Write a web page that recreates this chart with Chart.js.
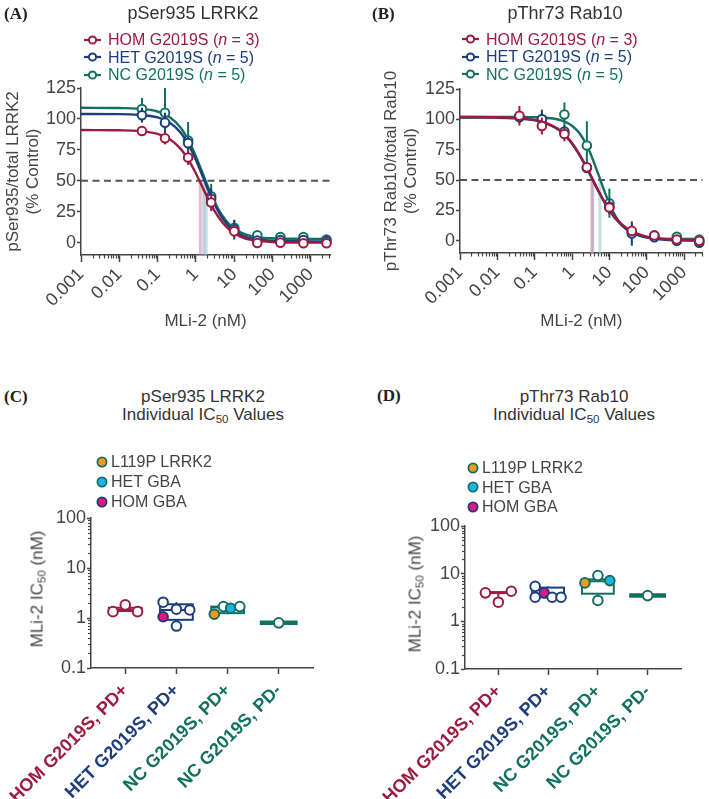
<!DOCTYPE html>
<html><head><meta charset="utf-8">
<script src="https://cdn.jsdelivr.net/npm/chart.js@4.4.1/dist/chart.umd.min.js"></script>
<style>
html,body{margin:0;padding:0;background:#fff}
body{width:709px;height:799px;position:relative;overflow:hidden;font-family:"Liberation Sans",Arial,Helvetica,sans-serif;color:#444}
canvas{position:absolute}
.t{position:absolute;white-space:nowrap;line-height:1;transform:translate(-50%,-50%)}
.l{position:absolute;white-space:nowrap;line-height:1;transform:translateY(-50%)}
.pl{font-family:"Liberation Serif","Times New Roman",serif;font-weight:bold;font-size:17px;color:#222}
.ti{font-size:18px;color:#333}
.ti2{font-size:17px;color:#333}
.lg{font-size:16px}
.rot{font-size:17px;color:#444;transform:translate(-50%,-50%) rotate(-90deg)}
sub{font-size:68%;line-height:0;vertical-align:-0.3em}
</style></head><body>
<canvas id="cA" width="345" height="336" style="left:0;top:0"></canvas>
<canvas id="cB" width="354" height="336" style="left:355px;top:0"></canvas>
<canvas id="cC" width="340" height="359" style="left:0;top:440px"></canvas>
<canvas id="cD" width="354" height="359" style="left:355px;top:440px"></canvas>

<div class="l pl" style="left:4px;top:13px">(A)</div>
<div class="t ti" style="left:193px;top:13px">pSer935 LRRK2</div>
<div class="l pl" style="left:372px;top:13px">(B)</div>
<div class="t ti" style="left:565px;top:13px">pThr73 Rab10</div>

<div class="l pl" style="left:4px;top:396px">(C)</div>
<div class="t ti2" style="left:203px;top:396px">pSer935 LRRK2</div>
<div class="t ti2" style="left:203px;top:414px">Individual IC<sub>50</sub> Values</div>
<div class="l pl" style="left:377px;top:395px">(D)</div>
<div class="t ti2" style="left:574px;top:396px">pThr73 Rab10</div>
<div class="t ti2" style="left:574px;top:414px">Individual IC<sub>50</sub> Values</div>

<div class="t rot" style="left:37px;top:589px">MLi-2 IC<sub>50</sub> (nM)</div>
<div class="t rot" style="left:415px;top:594px">MLi-2 IC<sub>50</sub> (nM)</div>

<script>
// ---------- DATA ----------
// Panels A & B (dose response)
const doses = [0.039, 0.156, 0.625, 2.5, 10, 40, 160, 640, 2560];
const curveDoses = [0.001, 0.01, 0.03, 0.1, 0.2, 0.4, 0.7, 1, 1.5, 2, 3, 5, 8, 15, 30, 100, 300, 3162];
const seriesNames = ['HOM G2019S', 'HET G2019S', 'NC G2019S'];
const seriesN = [3, 5, 5];

const aHom = [90.3, 84.4, 68.8, 32.5, 9.1, -0.3, 0, -0.5, -0.5];
const aHomErr = [2, 5, 6, 7, 5, 3, 2, 2, 3];
const aHet = [103, 97, 80.4, 35.5, 10.5, 1.6, 2, 2, 1];
const aHetErr = [6, 8, 5, 8, 8, 3, 3, 3, 5];
const aNc = [108, 105, 82.5, 37.5, 12, 6, 4.5, 4.5, 2.5];
const aNcErr = [9, 20, 15, 10, 6, 3, 3, 2, 2];
const aHomCurve = [91, 90.8, 90.3, 87.9, 83.9, 75.8, 64.9, 55.9, 44.5, 36.5, 26.1, 16.0, 9.6, 4.7, 2.0, 0.5, 0.1, 0];
const aHetCurve = [104, 103.9, 103.4, 101.2, 97.3, 88.9, 77.0, 66.8, 53.6, 44.0, 31.7, 19.4, 11.9, 6.1, 3.1, 1.5, 1.1, 1.0];
const aNcCurve = [109, 108.8, 108.3, 106.0, 101.8, 92.9, 80.3, 69.7, 56.0, 46.2, 33.6, 21.3, 13.8, 8.1, 5.1, 3.5, 3.1, 3.0];
const aIc50 = [1.3, 1.6, 1.85];

const bHom = [103, 94.5, 88, 60.5, 27.5, 8.2, 4.4, 1.1, 0];
const bHomErr = [8, 7, 6, 4, 5, 2, 2, 2, 2];
const bHet = [102, 100, 90, 60, 28, 6, 3, 0, -1.6];
const bHetErr = [5, 8, 5, 4, 6, 10, 3, 4, 3];
const bNc = [102, 100, 104, 78.5, 31, 7, 4.5, 3.3, 1];
const bNcErr = [5, 5, 10, 20, 12, 4, 2, 3, 2];
const bHomCurve = [102, 101.8, 101.3, 99.6, 97.2, 92.6, 86.2, 80.5, 72.4, 65.7, 55.4, 41.9, 30.5, 18.6, 10.1, 3.4, 1.45, 0.6];
const bHetCurve = [101.6, 101.4, 100.9, 99.2, 96.8, 92.2, 85.8, 80.0, 71.9, 65.2, 54.8, 41.2, 29.8, 17.8, 9.4, 2.8, 0.9, 0.1];
const bNcCurve = [102, 102, 102, 101.8, 101.3, 100.1, 97.6, 94.8, 89.5, 83.9, 73.1, 55.3, 38.0, 19.8, 8.8, 2.8, 1.75, 1.5];
const bIc50 = [3.4, 3.6, 5.6];

const halfMax = 50;
const xTickValues = [0.001, 0.01, 0.1, 1, 10, 100, 1000];
const xTickLabels = ['0.001', '0.01', '0.1', '1', '10', '100', '1000'];
const yTickValues = [0, 25, 50, 75, 100, 125];
const yTickLabels = ['0', '25', '50', '75', '100', '125'];

// Panels C & D (individual IC50)
const categories = ['HOM G2019S, PD+', 'HET G2019S, PD+', 'NC G2019S, PD+', 'NC G2019S, PD-'];
const markerNames = ['L119P LRRK2', 'HET GBA', 'HOM GBA'];
// points: [offset within group, IC50 (nM), marker index or -1]
const cHom = [[-0.24, 1.34, -1], [0, 1.83, -1], [0.24, 1.34, -1]];
const cHet = [[-0.26, 2.07, -1], [-0.26, 1.06, 2], [0, 1.5, -1], [0, 0.69, -1], [0.26, 1.45, -1]];
const cNcPos = [[-0.26, 1.19, 0], [-0.08, 1.69, -1], [0.06, 1.57, 1], [0.24, 1.69, -1]];
const cNcNeg = [[0, 0.8, -1]];
// box stats: [min, q1, median, q3, max]
const cBoxes = [[1.34, 1.38, 1.45, 1.6, 1.83], [0.69, 0.92, 1.45, 1.88, 2.07], [1.19, 1.25, 1.62, 1.69, 1.69], [0.8, 0.8, 0.8, 0.8, 0.8]];

const dHom = [[-0.26, 3.96, -1], [0, 2.52, -1], [0.26, 4.28, -1]];
const dHet = [[-0.26, 5.4, -1], [-0.26, 3.2, -1], [-0.08, 3.96, 2], [0.08, 3.2, -1], [0.26, 3.2, -1]];
const dNcPos = [[-0.26, 6.4, 0], [0, 9.1, -1], [0.24, 7.15, 1], [0, 2.74, -1]];
const dNcNeg = [[0, 3.47, -1]];
const dBoxes = [[2.52, 3.92, 3.98, 4.1, 4.28], [3.2, 3.2, 3.4, 5.1, 5.4], [2.74, 3.8, 6.9, 7.6, 9.1], [3.47, 3.47, 3.47, 3.47, 3.47]];

const icTickValues = [0.1, 1, 10, 100];
const icTickLabels = ['0.1', '1', '10', '100'];

// ---------- STYLE ----------
const RED = '#9d1a40', BLUE = '#1c3e7d', GREEN = '#137060';
const ORANGE = '#f29a1f', CYAN = '#1cb4e8', MAGENTA = '#e3187f';
const TXT = '#454545', AX = '#444';
const FONT = '"Liberation Sans", Arial, sans-serif';
const seriesColors = [RED, BLUE, GREEN];
const catColors = [RED, BLUE, GREEN, GREEN];
const bandColors = ['rgba(200,140,165,0.55)', 'rgba(150,165,205,0.5)', 'rgba(145,200,190,0.55)'];
const markerFills = [ORANGE, CYAN, MAGENTA];
const markerEdges = [GREEN, GREEN, BLUE];

Chart.defaults.font.family = FONT;

// ---------- PLUGINS ----------
const errorBars = {
  id: 'errorBars',
  beforeDatasetDraw(chart, args) {
    const ds = chart.data.datasets[args.index];
    if (!ds.errors) return;
    const ctx = chart.ctx, xs = chart.scales.x, ys = chart.scales.y;
    ctx.save();
    ctx.strokeStyle = ds.pointBorderColor; ctx.lineWidth = 2;
    ds.data.forEach((p, j) => {
      const e = ds.errors[j], px = xs.getPixelForValue(p.x);
      ctx.beginPath();
      ctx.moveTo(px, ys.getPixelForValue(p.y - e));
      ctx.lineTo(px, ys.getPixelForValue(p.y + e));
      ctx.stroke();
    });
    ctx.restore();
  }
};
function makeMinorTicks(xVals, yVals) {
  return {
    id: 'minorTicks',
    afterDraw(chart) {
      const ctx = chart.ctx;
      ctx.save(); ctx.strokeStyle = AX; ctx.lineWidth = 1.2;
      const xs = chart.scales.x, ys = chart.scales.y;
      xVals.forEach(v => { const p = Math.round(xs.getPixelForValue(v)) + 0.5; ctx.beginPath(); ctx.moveTo(p, xs.top); ctx.lineTo(p, xs.top + 3.5); ctx.stroke(); });
      yVals.forEach(v => { const p = Math.round(ys.getPixelForValue(v)) + 0.5; ctx.beginPath(); ctx.moveTo(ys.right, p); ctx.lineTo(ys.right - 3, p); ctx.stroke(); });
      ctx.restore();
    }
  };
}
function decadeMinors(lo, hi) {
  const out = [];
  for (let d = lo; d < hi * 1.0001; d *= 10) for (let m = 2; m <= 9; m++) out.push(+(m * d).toPrecision(3));
  return out;
}
function makeBoxPlugin(boxes) {
  return {
    id: 'boxPlot',
    beforeDatasetsDraw(chart) {
      const ctx = chart.ctx, xs = chart.scales.x, ys = chart.scales.y;
      ctx.save();
      boxes.forEach((b, i) => {
        const c = catColors[i];
        const cx = xs.getPixelForValue(i);
        ctx.strokeStyle = c;
        if (b[0] === b[4]) {
          const hw = xs.getPixelForValue(i + 0.37) - cx;
          ctx.lineWidth = 4.5;
          ctx.beginPath(); ctx.moveTo(cx - hw, ys.getPixelForValue(b[2])); ctx.lineTo(cx + hw, ys.getPixelForValue(b[2])); ctx.stroke();
          return;
        }
        const hw = xs.getPixelForValue(i + 0.32) - cx;
        const [mn, q1, md, q3, mx] = b.map(v => ys.getPixelForValue(v));
        ctx.lineWidth = 2;
        ctx.beginPath(); ctx.moveTo(cx, mn); ctx.lineTo(cx, q1); ctx.moveTo(cx, q3); ctx.lineTo(cx, mx); ctx.stroke();
        ctx.strokeRect(cx - hw, q3, 2 * hw, q1 - q3);
        ctx.beginPath(); ctx.moveTo(cx - hw, md); ctx.lineTo(cx + hw, md); ctx.stroke();
      });
      ctx.restore();
    }
  };
}
function noPad(s) { s.paddingLeft = 0; s.paddingRight = 0; s.paddingTop = 0; s.paddingBottom = 0; }

// ---------- CHART BUILDERS ----------
const xMin = 0.001, xMax = 3162, yMin = -10, yMax = 125;

function doseChart(id, geo, series, ic50s, yTitle) {
  const datasets = [];
  series.forEach((s, i) => {
    datasets.push({ data: doses.map((d, j) => ({ x: d, y: s.vals[j] })), errors: s.errs,
      pointBackgroundColor: '#fff', pointBorderColor: seriesColors[i], borderColor: seriesColors[i],
      pointRadius: 4.3, pointBorderWidth: 2, pointHoverRadius: 4.3, showLine: false, clip: false });
    datasets.push({ data: curveDoses.map((d, j) => ({ x: d, y: s.curve[j] })), borderColor: seriesColors[i],
      borderWidth: 2.4, pointRadius: 0, showLine: true, cubicInterpolationMode: 'monotone', clip: false });
  });
  ic50s.forEach((v, i) => datasets.push({ data: [{ x: v, y: halfMax }, { x: v, y: yMin }], borderColor: bandColors[i], borderWidth: 3, pointRadius: 0, showLine: true }));
  datasets.push({ data: [{ x: xMin, y: halfMax }, { x: xMax, y: halfMax }], borderColor: '#555', borderWidth: 2, borderDash: [7, 4.5], pointRadius: 0, showLine: true });

  new Chart(document.getElementById(id), {
    type: 'scatter',
    data: { datasets },
    options: {
      responsive: false, animation: false, events: [],
      layout: { padding: { top: geo.top, right: geo.right, left: 0, bottom: 0 } },
      plugins: { legend: { display: false }, tooltip: { enabled: false } },
      scales: {
        x: { type: 'logarithmic', min: xMin, max: xMax,
          afterBuildTicks: s => { s.ticks = xTickValues.map(v => ({ value: v })); },
          afterFit: s => { s.height = geo.xh; noPad(s); },
          ticks: { autoSkip: false, minRotation: 45, maxRotation: 45, padding: 2, color: TXT, font: { size: 18 }, callback: (v, i) => xTickLabels[i] },
          grid: { drawOnChartArea: false, drawTicks: true, tickLength: 7, tickWidth: 1.5, tickColor: AX },
          border: { display: true, color: AX, width: 1.5 },
          title: { display: true, text: 'MLi-2 (nM)', color: TXT, font: { size: 17 }, padding: { top: 0, bottom: 4 } } },
        y: { type: 'linear', min: yMin, max: yMax,
          afterBuildTicks: s => { s.ticks = yTickValues.map(v => ({ value: v })); },
          afterFit: s => { s.width = geo.yw; noPad(s); },
          ticks: { padding: 1, color: TXT, font: { size: 18 }, callback: (v, i) => yTickLabels[i] },
          grid: { drawOnChartArea: false, drawTicks: true, tickLength: 4, tickWidth: 1.5, tickColor: AX },
          border: { display: true, color: AX, width: 1.5 },
          title: { display: true, text: yTitle, color: TXT, font: { size: 17 }, padding: { top: geo.yt, bottom: 0 } } }
      }
    },
    plugins: [errorBars, makeMinorTicks(decadeMinors(0.001, 1000).filter(v => v < xMax), [])]
  });
}

function icChart(id, geo, groups, boxes) {
  const datasets = groups.map((pts, gi) => ({
    data: pts.map(p => ({ x: gi + p[0], y: p[1] })),
    pointBackgroundColor: pts.map(p => p[2] >= 0 ? markerFills[p[2]] : '#fff'),
    pointBorderColor: catColors[gi], borderColor: catColors[gi],
    pointRadius: 4.8, pointBorderWidth: 2, pointHoverRadius: 4.8, showLine: false, clip: false
  }));
  new Chart(document.getElementById(id), {
    type: 'scatter',
    data: { datasets },
    options: {
      responsive: false, animation: false, events: [],
      layout: { padding: { top: geo.top, right: geo.right, left: 0, bottom: 0 } },
      plugins: { legend: { display: false }, tooltip: { enabled: false } },
      scales: {
        x: { type: 'linear', min: -0.67, max: categories.length - 0.33,
          afterBuildTicks: s => { s.ticks = categories.map((c, i) => ({ value: i })); },
          afterFit: s => { s.height = geo.xh; noPad(s); },
          ticks: { autoSkip: false, minRotation: 45, maxRotation: 45, padding: 6,
            color: ctx => catColors[ctx.index], font: { size: 18, weight: 'bold' }, callback: (v, i) => categories[i] },
          grid: { drawOnChartArea: false, drawTicks: true, tickLength: 6, tickWidth: 1.5, tickColor: AX },
          border: { display: true, color: AX, width: 1.5 } },
        y: { type: 'logarithmic', min: 0.1, max: 100,
          afterBuildTicks: s => { s.ticks = icTickValues.map(v => ({ value: v })); },
          afterFit: s => { s.width = geo.yw; noPad(s); },
          ticks: { padding: 1, color: TXT, font: { size: 18 }, callback: (v, i) => icTickLabels[i] },
          grid: { drawOnChartArea: false, drawTicks: true, tickLength: 4, tickWidth: 1.5, tickColor: AX },
          border: { display: true, color: AX, width: 1.5 } }
      }
    },
    plugins: [makeBoxPlugin(boxes), makeMinorTicks([], decadeMinors(0.1, 10))]
  });
}

// ---------- LEGENDS ----------
function seriesLegend(x, y0, dy) {
  seriesNames.forEach((n, i) => {
    const c = seriesColors[i];
    const y = y0 + i * dy;
    const d = document.createElement('div');
    d.className = 'l lg';
    d.style.left = x + 'px'; d.style.top = y + 'px'; d.style.color = c;
    d.innerHTML = `<svg width="17" height="10" style="vertical-align:middle;margin-right:7px;position:relative;top:-1px"><line x1="0" y1="5" x2="17" y2="5" stroke="${c}" stroke-width="2.2"/><circle cx="8.5" cy="5" r="3.6" fill="#fff" stroke="${c}" stroke-width="2"/></svg>${n} (<i>n</i> = ${seriesN[i]})`;
    document.body.appendChild(d);
  });
}
function markerLegend(x, y0, dy) {
  markerNames.forEach((n, i) => {
    const d = document.createElement('div');
    d.className = 'l lg';
    d.style.left = x + 'px'; d.style.top = (y0 + i * dy) + 'px'; d.style.color = TXT;
    d.innerHTML = `<svg width="12" height="12" style="vertical-align:middle;margin-right:3px;position:relative;top:-1px"><circle cx="6" cy="6" r="4.6" fill="${markerFills[i]}" stroke="${markerEdges[i]}" stroke-width="1.8"/></svg>${n}`;
    document.body.appendChild(d);
  });
}

// ---------- BUILD ----------
doseChart('cA', { top: 88, right: 15, xh: 81, yw: 81, yt: 3 },
  [{ vals: aHom, errs: aHomErr, curve: aHomCurve }, { vals: aHet, errs: aHetErr, curve: aHetCurve }, { vals: aNc, errs: aNcErr, curve: aNcCurve }],
  aIc50, ['pSer935/total LRRK2', '(% Control)']);
doseChart('cB', { top: 89, right: 1, xh: 83, yw: 105, yt: 26 },
  [{ vals: bHom, errs: bHomErr, curve: bHomCurve }, { vals: bHet, errs: bHetErr, curve: bHetCurve }, { vals: bNc, errs: bNcErr, curve: bNcCurve }],
  bIc50, ['pThr73 Rab10/total Rab10', '(% Control)']);
icChart('cC', { top: 78, right: 27, xh: 131, yw: 91 }, [cHom, cHet, cNcPos, cNcNeg], cBoxes);
icChart('cD', { top: 86, right: 28, xh: 130, yw: 110 }, [dHom, dHet, dNcPos, dNcNeg], dBoxes);

seriesLegend(84, 40, 17.5);
seriesLegend(462, 39.5, 17.5);
markerLegend(96, 462, 20);
markerLegend(467, 468, 19.7);
</script>
</body></html>
